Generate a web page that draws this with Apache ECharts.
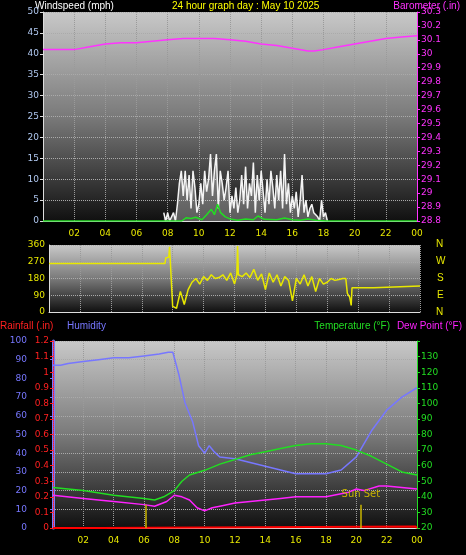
<!DOCTYPE html>
<html><head><meta charset="utf-8">
<script src="https://cdn.jsdelivr.net/npm/echarts@6/dist/echarts.min.js"></script>
<style>html,body{margin:0;background:#000}#main{width:466px;height:555px}</style>
</head><body><div id="main"></div>
<script>
// hours 0..24, "00" at the end is midnight
var hourTicks = ['', '02', '04', '06', '08', '10', '12', '14', '16', '18', '20', '22', '00'];

var baroT = [0, 1, 2, 3, 4, 5, 6, 7, 8, 9, 10, 11, 12, 13, 14, 15, 16, 17, 17.4, 18, 19, 20, 21, 22, 23, 24];
var baroV = [30.03, 30.03, 30.03, 30.05, 30.07, 30.08, 30.08, 30.09, 30.10, 30.11, 30.11, 30.11, 30.10, 30.09, 30.07, 30.06, 30.04, 30.02, 30.02, 30.03, 30.05, 30.07, 30.09, 30.11, 30.12, 30.13];

var gustStart = 7.75, gustStep = 0.125;
var gustV = [2, 0, 2, 0, 1, 2, 0, 4, 9, 12, 6, 12, 5, 11, 3, 12, 8, 2, 4, 9, 4, 12, 7, 10, 16, 6, 12, 16, 3, 12, 9, 5, 8, 12, 2, 6, 3, 8, 2, 5, 11, 4, 13, 3, 9, 6, 14, 2, 11, 5, 12, 7, 2, 10, 4, 12, 8, 3, 11, 5, 12, 3, 16, 4, 9, 2, 6, 3, 7, 1, 5, 11, 2, 5, 1, 3, 4, 2, 2, 1, 0, 5, 1, 2, 0];

var avgT = [0, 8.9, 9.2, 9.5, 9.8, 10.2, 10.5, 10.8, 11.0, 11.2, 11.4, 11.7, 12.0, 12.5, 13.0, 13.5, 13.8, 14.2, 15.0, 15.5, 16.0, 16.5, 17.0, 17.5, 18.2, 24];
var avgV = [0, 0, 0.8, 0.6, 0.9, 0.3, 1.5, 2.8, 1.5, 4, 2, 1, 0.5, 0.2, 0.5, 0.3, 1.2, 0.4, 0.3, 0.7, 0.3, 0.2, 0.5, 0.2, 0, 0];

var dirT = [0, 7.5, 7.55, 7.75, 7.8, 8.0, 8.25, 8.5, 8.75, 9.0, 9.25, 9.5, 9.75, 10.0, 10.25, 10.5, 10.75, 11.0, 11.25, 11.5, 11.75, 12.0, 12.15, 12.2, 12.25, 12.5, 12.75, 13.0, 13.25, 13.5, 13.75, 14.0, 14.25, 14.5, 14.75, 15.0, 15.25, 15.5, 15.75, 16.0, 16.25, 16.5, 16.75, 17.0, 17.25, 17.5, 17.75, 18.0, 18.25, 18.5, 18.75, 19.0, 19.2, 19.3, 19.45, 19.55, 19.6, 21.0, 21.1, 24];
var dirV = [260, 260, 290, 295, 350, 30, 20, 110, 40, 120, 160, 180, 150, 190, 170, 200, 180, 185, 200, 170, 210, 150, 200, 355, 200, 190, 210, 185, 230, 170, 205, 120, 210, 160, 200, 140, 190, 170, 60, 180, 150, 200, 140, 190, 110, 180, 150, 160, 180, 170, 175, 180, 180, 100, 80, 35, 130, 130, 140, 140];

var humT = [0, 0.5, 1, 2, 3, 4, 5, 6, 7, 7.6, 7.9, 8.3, 8.7, 9.2, 9.6, 10.0, 10.3, 10.6, 11, 12, 13, 14, 15, 16, 17, 18, 19, 20, 21, 22, 23, 24];
var humV = [87, 87, 88, 89, 90, 91, 91, 92, 93, 94, 94, 82, 67, 57, 44, 40, 44, 41, 38, 37, 35, 33, 31, 29, 29, 29, 31, 38, 52, 63, 70, 75];

var tempT = [0, 2, 4, 6, 6.7, 7.3, 8, 8.5, 9, 10, 11, 12, 13, 14, 15, 16, 17, 17.6, 18, 19, 20, 21, 22, 23, 24];
var tempV = [46, 44, 41, 39, 38, 40, 44, 50, 54, 57, 61, 64, 67, 69, 71, 73, 74, 74, 74, 73, 70, 66, 61, 56, 54];

var dewT = [0, 2, 4, 6, 6.7, 7.5, 8, 8.5, 9, 9.5, 10, 10.5, 11, 12, 13, 14, 15, 16, 17, 18, 19, 19.5, 20, 20.5, 21.5, 22, 23, 24];
var dewV = [41, 39, 37, 35, 34, 37, 41, 40, 38, 33, 31, 33, 34, 36, 37, 38, 39, 40, 40, 40, 42, 43, 45, 44, 47, 47, 46, 45];

var rainT = [0, 3.1, 3.15, 23.9, 24];
var rainV = [0, 0, 0.01, 0.01, 0];

var sunEvents = [[6.1, ''], [20.3, 'Sun Set']];

function pairs(t, v) { return t.map(function (x, i) { return [x, v[i]]; }); }
var gust = gustV.map(function (v, i) { return [gustStart + i * gustStep, v]; });

var bg = new echarts.graphic.LinearGradient(0, 0, 0, 1, [
  { offset: 0, color: '#c8c8c8' }, { offset: 0.5, color: '#7a7a7a' }, { offset: 1, color: '#101010' }]);
var split = { show: true, lineStyle: { color: '#9a9a9a', type: 'dotted', width: 1 } };
var hoursAxis = function (gi, showLabels) {
  return {
    type: 'value', gridIndex: gi, min: 0, max: 24, interval: 2,
    axisLine: { lineStyle: { color: '#ddd' } }, axisTick: { show: false },
    axisLabel: { show: showLabels, color: '#e8e800', fontSize: 9, formatter: function (v) { return hourTicks[v / 2]; } },
    splitLine: split
  };
};
var lab = function (c) { return { color: c, fontSize: 9, margin: 4 }; };
var FONT = '10px "Liberation Sans"';
var txt = function (x, y, s, c) {
  return { type: 'text', left: x, top: y, style: { text: s, fill: c, font: FONT } };
};
var txtR = function (r, y, s, c) {
  return { type: 'text', right: r, top: y, style: { text: s, fill: c, font: FONT } };
};

var chart = echarts.init(document.getElementById('main'));
chart.setOption({
  backgroundColor: '#000',
  animation: false,
  textStyle: { fontFamily: 'DejaVu Sans' },
  grid: [
    { left: 43, right: 49, top: 12, height: 209, show: true, backgroundColor: bg, borderWidth: 0 },
    { left: 49, right: 46, top: 245, height: 67, show: true, backgroundColor: bg, borderWidth: 0 },
    { left: 53, right: 49, top: 341, height: 187, show: true, backgroundColor: bg, borderWidth: 0 }
  ],
  xAxis: [hoursAxis(0, true), hoursAxis(1, false), hoursAxis(2, true)],
  yAxis: [
    { type: 'value', gridIndex: 0, min: 0, max: 50, interval: 5, position: 'left', axisLabel: lab('#b0c8f0'),
      axisLine: { show: true, lineStyle: { color: '#ddd' } }, axisTick: { show: true, length: 3 },
      splitLine: { show: true, lineStyle: { color: '#aaa', type: 'dotted' } } },
    { type: 'value', gridIndex: 0, min: 28.8, max: 30.3, interval: 0.1, position: 'right', axisLabel: lab('#ff33ff'),
      axisLine: { show: true, lineStyle: { color: '#ff33ff' } }, axisTick: { show: true, length: 3 }, splitLine: { show: false } },
    { type: 'value', gridIndex: 1, min: 0, max: 360, interval: 90, position: 'left', axisLabel: lab('#e8e800'),
      axisLine: { show: true, lineStyle: { color: '#ddd' } }, axisTick: { show: false },
      splitLine: { show: true, lineStyle: { color: '#aaa', type: 'dotted' } } },
    { type: 'value', gridIndex: 2, min: 0, max: 100, interval: 10, position: 'left', offset: 22, axisLabel: lab('#7777ff'),
      axisLine: { show: true, lineStyle: { color: '#7777ff', width: 3 } }, axisTick: { show: true, length: 3, lineStyle: { color: '#7777ff' } },
      splitLine: { show: true, lineStyle: { color: '#aaa', type: 'dotted' } } },
    { type: 'value', gridIndex: 2, min: 0, max: 1.2, interval: 0.1, position: 'left', offset: 0, axisLabel: lab('#ff2020'),
      axisLine: { show: true, lineStyle: { color: '#ff2020', type: 'dotted' } }, axisTick: { show: true, length: 3 }, splitLine: { show: false } },
    { type: 'value', gridIndex: 2, min: 20, max: 140, interval: 10, position: 'right', axisLabel: Object.assign(lab('#22dd22'), { formatter: function (v) { return v >= 140 ? '' : v; } }),
      axisLine: { show: true, lineStyle: { color: '#22dd22' } }, axisTick: { show: true, length: 3 }, splitLine: { show: false } }
  ],
  series: [
    { type: 'line', xAxisIndex: 0, yAxisIndex: 1, data: pairs(baroT, baroV), showSymbol: false, lineStyle: { color: '#ff33ff', width: 1.5 } },
    { type: 'line', xAxisIndex: 0, yAxisIndex: 0, data: gust, showSymbol: false, lineStyle: { color: '#f4f4f4', width: 1.5 }, areaStyle: { color: 'rgba(255,255,255,0.45)' } },
    { type: 'line', xAxisIndex: 0, yAxisIndex: 0, data: pairs(avgT, avgV), showSymbol: false, lineStyle: { color: '#22dd22', width: 1.5 } },
    { type: 'line', xAxisIndex: 1, yAxisIndex: 2, data: pairs(dirT, dirV), showSymbol: false, lineStyle: { color: '#e8e800', width: 1.5 } },
    { type: 'line', xAxisIndex: 2, yAxisIndex: 3, data: pairs(humT, humV), showSymbol: false, lineStyle: { color: '#7777ff', width: 1.5 } },
    { type: 'line', xAxisIndex: 2, yAxisIndex: 5, data: pairs(tempT, tempV), showSymbol: false, lineStyle: { color: '#22dd22', width: 1.5 } },
    { type: 'line', xAxisIndex: 2, yAxisIndex: 5, data: pairs(dewT, dewV), showSymbol: false, lineStyle: { color: '#ff22ff', width: 1.5 } },
    { type: 'line', xAxisIndex: 2, yAxisIndex: 4, data: pairs(rainT, rainV), showSymbol: false, lineStyle: { color: '#ff0000', width: 2 },
      markLine: { symbol: 'none', silent: true, lineStyle: { color: '#c8b400', type: 'solid', width: 1.5 },
        label: { show: true, position: 'end', color: '#c8b400', fontSize: 10, formatter: function (p) { return p.data.name || ''; } },
        data: sunEvents.map(function (s) { return [{ coord: [s[0], 0], name: s[1] }, { coord: [s[0], 0.15] }]; }) } }
  ],
  graphic: [
    txt(35, 1, 'Windspeed (mph)', '#ffffff'),
    txt(172, 1, '24 hour graph day : May 10 2025', '#ffff00'),
    txtR(6, 1, 'Barometer (.in)', '#ff33ff'),
    txt(436, 239, 'N', '#e8e800'), txt(436, 256, 'W', '#e8e800'), txt(437, 273, 'S', '#e8e800'),
    txt(437, 290, 'E', '#e8e800'), txt(436, 307, 'N', '#e8e800'),
    txt(0, 321, 'Rainfall (.in)', '#ff2020'),
    txt(67, 321, 'Humidity', '#7777ff'),
    txtR(76, 321, 'Temperature (°F)', '#22dd22'),
    txtR(4, 321, 'Dew Point (°F)', '#ff22ff')
  ]
});
</script></body></html>
